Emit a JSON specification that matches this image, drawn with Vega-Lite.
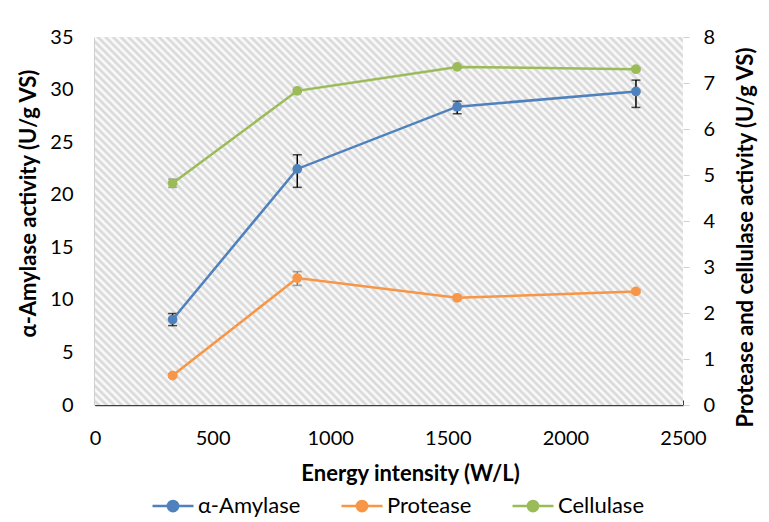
{
  "$schema": "https://vega.github.io/schema/vega-lite/v6.json",
  "width": 588,
  "height": 368,
  "autosize": "none",
  "padding": {"left": 95, "top": 37, "right": 86, "bottom": 117},
  "background": "white",
  "config": {
    "view": {"stroke": null},
    "font": "Lato",
    "axis": {"labelFont": "Lato", "titleFont": "Lato", "labelColor": "#000", "titleColor": "#000", "grid": false, "labelFontSize": 20, "titleFontSize": 22, "titleFontWeight": "bold"},
    "legend": {"labelFont": "Lato", "labelFontSize": 22, "labelColor": "#000", "orient": "none", "legendX": 56, "legendY": 447, "direction": "horizontal", "symbolSize": 1681, "symbolStrokeWidth": 2.5, "symbolType": "M-1,0L1,0M0.25,0A0.25,0.25,0,1,1,-0.25,0A0.25,0.25,0,1,1,0.25,0Z", "columnPadding": 35, "labelOffset": 3}
  },
  "datasets": {
    "act": [
      {"x": 330, "enzyme": "α-Amylase", "v": 8.13, "lo": 7.55, "hi": 8.7},
      {"x": 860, "enzyme": "α-Amylase", "v": 22.45, "lo": 20.7, "hi": 23.8},
      {"x": 1540, "enzyme": "α-Amylase", "v": 28.37, "lo": 27.7, "hi": 28.9},
      {"x": 2300, "enzyme": "α-Amylase", "v": 29.82, "lo": 28.3, "hi": 30.9},
      {"x": 330, "enzyme": "Protease", "v": 0.64, "lo": 0.6, "hi": 0.68},
      {"x": 860, "enzyme": "Protease", "v": 2.76, "lo": 2.6, "hi": 2.9},
      {"x": 1540, "enzyme": "Protease", "v": 2.33, "lo": 2.29, "hi": 2.37},
      {"x": 2300, "enzyme": "Protease", "v": 2.47, "lo": 2.43, "hi": 2.51},
      {"x": 330, "enzyme": "Cellulase", "v": 4.82, "lo": 4.73, "hi": 4.91},
      {"x": 860, "enzyme": "Cellulase", "v": 6.83, "lo": 6.8, "hi": 6.86},
      {"x": 1540, "enzyme": "Cellulase", "v": 7.35, "lo": 7.32, "hi": 7.38},
      {"x": 2300, "enzyme": "Cellulase", "v": 7.3, "lo": 7.27, "hi": 7.33}
    ]
  },
  "data": {"name": "act"},
  "encoding": {
    "x": {
      "field": "x", "type": "quantitative",
      "scale": {"domain": [0, 2500], "nice": false},
      "axis": {"title": "Energy intensity (W/L)", "format": "d", "values": [0, 500, 1000, 1500, 2000, 2500], "domainColor": "#404040", "domainWidth": 1.5, "tickColor": "#404040", "tickSize": -5, "labelPadding": 28, "titleX": 315, "titleY": 68, "titleBaseline": "middle", "labelFlush": false}
    }
  },
  "layer": [
    {
      "transform": [{"filter": "datum.enzyme === 'α-Amylase'"}],
      "encoding": {
        "y": {
          "field": "v", "type": "quantitative",
          "scale": {"domain": [0, 35], "nice": false},
          "axis": {"title": "α-Amylase activity (U/g VS)", "values": [0, 5, 10, 15, 20, 25, 30, 35], "domainColor": "#404040", "domainWidth": 1.5, "tickColor": "#404040", "tickSize": -5, "labelPadding": 27, "titleX": -67, "titleY": 166, "titleBaseline": "middle", "titleAngle": 270, "labelFlush": false}
        }
      },
      "layer": [
        {
          "mark": {"type": "rect", "fill": {"gradient": "linear", "x1": 0, "y1": 1, "x2": 1.168, "y2": 0.269, "stops": [
            {"offset":0,"color":"#fff"},{"offset":0.004,"color":"#d4d4d4"},{"offset":0.008,"color":"#fff"},{"offset":0.012,"color":"#d4d4d4"},{"offset":0.016,"color":"#fff"},{"offset":0.02,"color":"#d4d4d4"},{"offset":0.024,"color":"#fff"},{"offset":0.028,"color":"#d4d4d4"},{"offset":0.032,"color":"#fff"},{"offset":0.036,"color":"#d4d4d4"},
            {"offset":0.04,"color":"#fff"},{"offset":0.044,"color":"#d4d4d4"},{"offset":0.048,"color":"#fff"},{"offset":0.052,"color":"#d4d4d4"},{"offset":0.056,"color":"#fff"},{"offset":0.06,"color":"#d4d4d4"},{"offset":0.064,"color":"#fff"},{"offset":0.068,"color":"#d4d4d4"},{"offset":0.072,"color":"#fff"},{"offset":0.076,"color":"#d4d4d4"},
            {"offset":0.08,"color":"#fff"},{"offset":0.084,"color":"#d4d4d4"},{"offset":0.088,"color":"#fff"},{"offset":0.092,"color":"#d4d4d4"},{"offset":0.096,"color":"#fff"},{"offset":0.1,"color":"#d4d4d4"},{"offset":0.104,"color":"#fff"},{"offset":0.108,"color":"#d4d4d4"},{"offset":0.112,"color":"#fff"},{"offset":0.116,"color":"#d4d4d4"},
            {"offset":0.12,"color":"#fff"},{"offset":0.124,"color":"#d4d4d4"},{"offset":0.128,"color":"#fff"},{"offset":0.132,"color":"#d4d4d4"},{"offset":0.136,"color":"#fff"},{"offset":0.14,"color":"#d4d4d4"},{"offset":0.144,"color":"#fff"},{"offset":0.148,"color":"#d4d4d4"},{"offset":0.152,"color":"#fff"},{"offset":0.156,"color":"#d4d4d4"},
            {"offset":0.16,"color":"#fff"},{"offset":0.164,"color":"#d4d4d4"},{"offset":0.168,"color":"#fff"},{"offset":0.172,"color":"#d4d4d4"},{"offset":0.176,"color":"#fff"},{"offset":0.18,"color":"#d4d4d4"},{"offset":0.184,"color":"#fff"},{"offset":0.188,"color":"#d4d4d4"},{"offset":0.192,"color":"#fff"},{"offset":0.196,"color":"#d4d4d4"},
            {"offset":0.2,"color":"#fff"},{"offset":0.204,"color":"#d4d4d4"},{"offset":0.208,"color":"#fff"},{"offset":0.212,"color":"#d4d4d4"},{"offset":0.216,"color":"#fff"},{"offset":0.22,"color":"#d4d4d4"},{"offset":0.224,"color":"#fff"},{"offset":0.228,"color":"#d4d4d4"},{"offset":0.232,"color":"#fff"},{"offset":0.236,"color":"#d4d4d4"},
            {"offset":0.24,"color":"#fff"},{"offset":0.244,"color":"#d4d4d4"},{"offset":0.248,"color":"#fff"},{"offset":0.252,"color":"#d4d4d4"},{"offset":0.256,"color":"#fff"},{"offset":0.26,"color":"#d4d4d4"},{"offset":0.264,"color":"#fff"},{"offset":0.268,"color":"#d4d4d4"},{"offset":0.272,"color":"#fff"},{"offset":0.276,"color":"#d4d4d4"},
            {"offset":0.28,"color":"#fff"},{"offset":0.284,"color":"#d4d4d4"},{"offset":0.288,"color":"#fff"},{"offset":0.292,"color":"#d4d4d4"},{"offset":0.296,"color":"#fff"},{"offset":0.3,"color":"#d4d4d4"},{"offset":0.304,"color":"#fff"},{"offset":0.308,"color":"#d4d4d4"},{"offset":0.312,"color":"#fff"},{"offset":0.316,"color":"#d4d4d4"},
            {"offset":0.32,"color":"#fff"},{"offset":0.324,"color":"#d4d4d4"},{"offset":0.328,"color":"#fff"},{"offset":0.332,"color":"#d4d4d4"},{"offset":0.336,"color":"#fff"},{"offset":0.34,"color":"#d4d4d4"},{"offset":0.344,"color":"#fff"},{"offset":0.348,"color":"#d4d4d4"},{"offset":0.352,"color":"#fff"},{"offset":0.356,"color":"#d4d4d4"},
            {"offset":0.36,"color":"#fff"},{"offset":0.364,"color":"#d4d4d4"},{"offset":0.368,"color":"#fff"},{"offset":0.372,"color":"#d4d4d4"},{"offset":0.376,"color":"#fff"},{"offset":0.38,"color":"#d4d4d4"},{"offset":0.384,"color":"#fff"},{"offset":0.388,"color":"#d4d4d4"},{"offset":0.392,"color":"#fff"},{"offset":0.396,"color":"#d4d4d4"},
            {"offset":0.4,"color":"#fff"},{"offset":0.404,"color":"#d4d4d4"},{"offset":0.408,"color":"#fff"},{"offset":0.412,"color":"#d4d4d4"},{"offset":0.416,"color":"#fff"},{"offset":0.42,"color":"#d4d4d4"},{"offset":0.424,"color":"#fff"},{"offset":0.428,"color":"#d4d4d4"},{"offset":0.432,"color":"#fff"},{"offset":0.436,"color":"#d4d4d4"},
            {"offset":0.44,"color":"#fff"},{"offset":0.444,"color":"#d4d4d4"},{"offset":0.448,"color":"#fff"},{"offset":0.452,"color":"#d4d4d4"},{"offset":0.456,"color":"#fff"},{"offset":0.46,"color":"#d4d4d4"},{"offset":0.464,"color":"#fff"},{"offset":0.468,"color":"#d4d4d4"},{"offset":0.472,"color":"#fff"},{"offset":0.476,"color":"#d4d4d4"},
            {"offset":0.48,"color":"#fff"},{"offset":0.484,"color":"#d4d4d4"},{"offset":0.488,"color":"#fff"},{"offset":0.492,"color":"#d4d4d4"},{"offset":0.496,"color":"#fff"},{"offset":0.5,"color":"#d4d4d4"},{"offset":0.504,"color":"#fff"},{"offset":0.508,"color":"#d4d4d4"},{"offset":0.512,"color":"#fff"},{"offset":0.516,"color":"#d4d4d4"},
            {"offset":0.52,"color":"#fff"},{"offset":0.524,"color":"#d4d4d4"},{"offset":0.528,"color":"#fff"},{"offset":0.532,"color":"#d4d4d4"},{"offset":0.536,"color":"#fff"},{"offset":0.54,"color":"#d4d4d4"},{"offset":0.544,"color":"#fff"},{"offset":0.548,"color":"#d4d4d4"},{"offset":0.552,"color":"#fff"},{"offset":0.556,"color":"#d4d4d4"},
            {"offset":0.56,"color":"#fff"},{"offset":0.564,"color":"#d4d4d4"},{"offset":0.568,"color":"#fff"},{"offset":0.572,"color":"#d4d4d4"},{"offset":0.576,"color":"#fff"},{"offset":0.58,"color":"#d4d4d4"},{"offset":0.584,"color":"#fff"},{"offset":0.588,"color":"#d4d4d4"},{"offset":0.592,"color":"#fff"},{"offset":0.596,"color":"#d4d4d4"},
            {"offset":0.6,"color":"#fff"},{"offset":0.604,"color":"#d4d4d4"},{"offset":0.608,"color":"#fff"},{"offset":0.612,"color":"#d4d4d4"},{"offset":0.616,"color":"#fff"},{"offset":0.62,"color":"#d4d4d4"},{"offset":0.624,"color":"#fff"},{"offset":0.628,"color":"#d4d4d4"},{"offset":0.632,"color":"#fff"},{"offset":0.636,"color":"#d4d4d4"},
            {"offset":0.64,"color":"#fff"},{"offset":0.644,"color":"#d4d4d4"},{"offset":0.648,"color":"#fff"},{"offset":0.652,"color":"#d4d4d4"},{"offset":0.656,"color":"#fff"},{"offset":0.66,"color":"#d4d4d4"},{"offset":0.664,"color":"#fff"},{"offset":0.668,"color":"#d4d4d4"},{"offset":0.672,"color":"#fff"},{"offset":0.676,"color":"#d4d4d4"},
            {"offset":0.68,"color":"#fff"},{"offset":0.684,"color":"#d4d4d4"},{"offset":0.688,"color":"#fff"},{"offset":0.692,"color":"#d4d4d4"},{"offset":0.696,"color":"#fff"},{"offset":0.7,"color":"#d4d4d4"},{"offset":0.704,"color":"#fff"},{"offset":0.708,"color":"#d4d4d4"},{"offset":0.712,"color":"#fff"},{"offset":0.716,"color":"#d4d4d4"},
            {"offset":0.72,"color":"#fff"},{"offset":0.724,"color":"#d4d4d4"},{"offset":0.728,"color":"#fff"},{"offset":0.732,"color":"#d4d4d4"},{"offset":0.736,"color":"#fff"},{"offset":0.74,"color":"#d4d4d4"},{"offset":0.744,"color":"#fff"},{"offset":0.748,"color":"#d4d4d4"},{"offset":0.752,"color":"#fff"},{"offset":0.756,"color":"#d4d4d4"},
            {"offset":0.76,"color":"#fff"},{"offset":0.764,"color":"#d4d4d4"},{"offset":0.768,"color":"#fff"},{"offset":0.772,"color":"#d4d4d4"},{"offset":0.776,"color":"#fff"},{"offset":0.78,"color":"#d4d4d4"},{"offset":0.784,"color":"#fff"},{"offset":0.788,"color":"#d4d4d4"},{"offset":0.792,"color":"#fff"},{"offset":0.796,"color":"#d4d4d4"},
            {"offset":0.8,"color":"#fff"},{"offset":0.804,"color":"#d4d4d4"},{"offset":0.808,"color":"#fff"},{"offset":0.812,"color":"#d4d4d4"},{"offset":0.816,"color":"#fff"},{"offset":0.82,"color":"#d4d4d4"},{"offset":0.824,"color":"#fff"},{"offset":0.828,"color":"#d4d4d4"},{"offset":0.832,"color":"#fff"},{"offset":0.836,"color":"#d4d4d4"},
            {"offset":0.84,"color":"#fff"},{"offset":0.844,"color":"#d4d4d4"},{"offset":0.848,"color":"#fff"},{"offset":0.852,"color":"#d4d4d4"},{"offset":0.856,"color":"#fff"},{"offset":0.86,"color":"#d4d4d4"},{"offset":0.864,"color":"#fff"},{"offset":0.868,"color":"#d4d4d4"},{"offset":0.872,"color":"#fff"},{"offset":0.876,"color":"#d4d4d4"},
            {"offset":0.88,"color":"#fff"},{"offset":0.884,"color":"#d4d4d4"},{"offset":0.888,"color":"#fff"},{"offset":0.892,"color":"#d4d4d4"},{"offset":0.896,"color":"#fff"},{"offset":0.9,"color":"#d4d4d4"},{"offset":0.904,"color":"#fff"},{"offset":0.908,"color":"#d4d4d4"},{"offset":0.912,"color":"#fff"},{"offset":0.916,"color":"#d4d4d4"},
            {"offset":0.92,"color":"#fff"},{"offset":0.924,"color":"#d4d4d4"},{"offset":0.928,"color":"#fff"},{"offset":0.932,"color":"#d4d4d4"},{"offset":0.936,"color":"#fff"},{"offset":0.94,"color":"#d4d4d4"},{"offset":0.944,"color":"#fff"},{"offset":0.948,"color":"#d4d4d4"},{"offset":0.952,"color":"#fff"},{"offset":0.956,"color":"#d4d4d4"},
            {"offset":0.96,"color":"#fff"},{"offset":0.964,"color":"#d4d4d4"},{"offset":0.968,"color":"#fff"},{"offset":0.972,"color":"#d4d4d4"},{"offset":0.976,"color":"#fff"},{"offset":0.98,"color":"#d4d4d4"},{"offset":0.984,"color":"#fff"},{"offset":0.988,"color":"#d4d4d4"},{"offset":0.992,"color":"#fff"},{"offset":0.996,"color":"#d4d4d4"},
            {"offset":1,"color":"#fff"}
          ]}},
          "encoding": {"x": {"datum": 0}, "x2": {"datum": 2500}, "y": {"datum": 0}, "y2": {"datum": 35}}
        },
        {
          "mark": {"type": "errorbar", "ticks": {"size": 9}, "thickness": 1.5, "color": "#000"},
          "encoding": {"y": {"field": "lo", "type": "quantitative"}, "y2": {"field": "hi"}}
        },
        {
          "mark": {"type": "line", "strokeWidth": 2.5},
          "encoding": {
            "color": {
              "field": "enzyme", "type": "nominal",
              "scale": {"domain": ["α-Amylase", "Protease", "Cellulase"], "range": ["#4F81BD", "#F79646", "#9BBB59"]},
              "legend": {"title": null, "encode": {"symbols": {"update": {"fill": {"scale": "color", "field": "value"}, "stroke": {"scale": "color", "field": "value"}}}}}
            }
          }
        },
        {
          "mark": {"type": "point", "filled": true, "size": 95, "opacity": 1},
          "encoding": {"color": {"field": "enzyme", "type": "nominal"}}
        }
      ]
    },
    {
      "transform": [{"filter": "datum.enzyme !== 'α-Amylase'"}],
      "encoding": {
        "y": {
          "field": "v", "type": "quantitative",
          "scale": {"domain": [0, 8], "nice": false},
          "axis": {"orient": "right", "title": "Protease and cellulase activity (U/g VS)", "values": [0, 1, 2, 3, 4, 5, 6, 7, 8], "domain": false, "tickColor": "#d0d0d0", "tickSize": 6, "labelPadding": 14, "titleX": 62, "titleY": 200, "titleBaseline": "middle", "titleAngle": 270, "labelFlush": false}
        }
      },
      "layer": [
        {
          "mark": {"type": "errorbar", "ticks": {"size": 9}, "thickness": 1.5, "color": "#808080"},
          "encoding": {"y": {"field": "lo", "type": "quantitative"}, "y2": {"field": "hi"}, "detail": {"field": "enzyme"}}
        },
        {
          "mark": {"type": "line", "strokeWidth": 2.5},
          "encoding": {"color": {"field": "enzyme", "type": "nominal"}}
        },
        {
          "mark": {"type": "point", "filled": true, "size": 95, "opacity": 1},
          "encoding": {"color": {"field": "enzyme", "type": "nominal"}}
        }
      ]
    }
  ],
  "resolve": {"scale": {"y": "independent"}}
}
